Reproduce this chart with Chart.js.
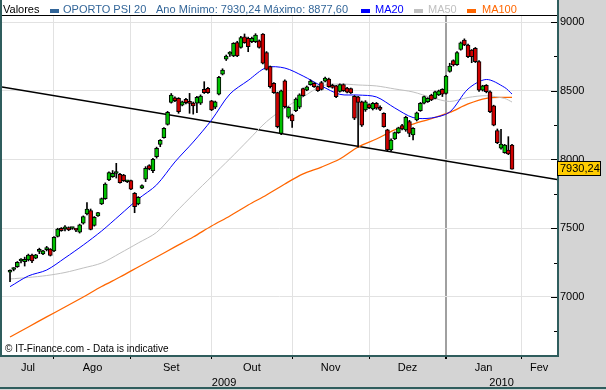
<!DOCTYPE html>
<html><head><meta charset="utf-8">
<script src="https://cdn.jsdelivr.net/npm/chart.js@4/dist/chart.umd.min.js"></script>
<style>html,body{margin:0;padding:0;background:#d4d4d4;}canvas{display:block;}</style>
</head><body>
<canvas id="c" width="606" height="390"></canvas>
<script>
// ---- DATA (OPORTO PSI 20, daily sessions 16 Jul 2009 .. 27 Jan 2010, index = session number) ----
const opens = [7180,7200,7220,7262,7256,7270,7305,7282,7332,7313,
 7345,7349,7335,7440,7500,7495,7504,7498,7490,7471,
 7536,7604,7628,7521,7589,7676,7715,7851,7875,7898,
 7892,7887,7838,7846,7754,7676,7791,7856,7955,7918,
 8020,8110,8159,8256,8416,8448,8445,8396,8438,8410,
 8410,8409,8409,8510,8518,8426,8380,8476,8620,8729,
 8766,8753,8850,8816,8893,8881,8857,8857,8864,8913,
 8777,8675,8554,8486,8190,8573,8307,8324,8355,8380,
 8515,8505,8545,8554,8530,8560,8570,8585,8540,8535,
 8495,8545,8520,8515,8460,8455,8420,8360,8400,8367,
 8409,8380,8336,8215,8070,8150,8195,8247,8215,8275,
 8178,8287,8355,8409,8420,8469,8445,8469,8510,8481,
 8640,8719,8690,8801,8869,8833,8796,8809,8712,8505,
 8540,8493,8390,8210,8082,8050,8069,8105];
const highs = [7198,7213,7258,7280,7290,7312,7312,7310,7355,7340,
 7368,7352,7440,7500,7505,7520,7510,7506,7494,7530,
 7590,7686,7640,7585,7616,7720,7830,7910,7920,7972,
 7900,7892,7848,7850,7760,7730,7815,7948,7962,8008,
 8090,8145,8232,8350,8480,8455,8450,8425,8445,8481,
 8418,8460,8470,8566,8525,8430,8425,8605,8660,8760,
 8785,8850,8860,8895,8913,8890,8890,8915,8870,8915,
 8785,8680,8560,8490,8505,8580,8385,8330,8448,8478,
 8520,8535,8580,8560,8535,8568,8600,8592,8548,8540,
 8550,8550,8525,8520,8465,8460,8425,8428,8405,8415,
 8415,8390,8340,8220,8150,8200,8235,8255,8315,8285,
 8232,8345,8415,8462,8450,8475,8498,8505,8515,8612,
 8700,8725,8785,8855,8877.6,8840,8800,8815,8720,8540,
 8545,8500,8395,8222,8220,8110,8166,8110];
const lows = [7112,7190,7215,7248,7225,7262,7250,7278,7315,7308,
 7335,7298,7330,7436,7478,7480,7482,7492,7475,7465,
 7530,7596,7488,7515,7586,7672,7710,7846,7870,7865,
 7828,7840,7832,7780,7613,7670,7788,7839,7925,7905,
 8010,8093,8155,8250,8410,8420,8336,8390,8405,8336,
 8330,8340,8400,8480,8480,8355,8370,8470,8615,8720,
 8750,8748,8748,8810,8845,8784,8850,8850,8810,8695,
 8650,8520,8480,8230,8180,8375,8300,8234,8348,8370,
 8458,8500,8540,8525,8495,8505,8565,8525,8518,8450,
 8490,8495,8485,8480,8290,8090,8240,8350,8370,8360,
 8365,8355,8235,8060,8060,8145,8190,8215,8205,8166,
 8142,8280,8350,8405,8415,8428,8440,8465,8458,8476,
 8635,8680,8685,8795,8828,8740,8704,8705,8495,8498,
 8485,8340,8245,8115,8075,8045,8035,7930.24];
const closes = [7186,7206,7252,7266,7274,7305,7262,7306,7336,7335,
 7349,7302,7434,7494,7482,7499,7488,7500,7486,7524,
 7584,7640,7492,7580,7613,7715,7822,7904,7900,7902,
 7832,7846,7840,7784,7657,7725,7810,7936,7931,8001,
 8081,8140,8227,8343,8469,8428,8348,8420,8413,8408,
 8390,8452,8462,8486,8486,8360,8420,8598,8651,8753,
 8770,8845,8753,8886,8850,8820,8881,8905,8816,8700,
 8656,8530,8486,8239,8500,8384,8380,8280,8440,8470,
 8465,8529,8570,8530,8500,8510,8592,8530,8525,8457,
 8545,8500,8490,8485,8300,8415,8250,8420,8377,8409,
 8373,8365,8239,8070,8142,8195,8230,8223,8307,8190,
 8227,8340,8409,8457,8445,8433,8493,8500,8476,8607,
 8680,8687,8777,8849,8833,8748,8748,8712,8505,8535,
 8493,8348,8250,8122,8113,8105,8040,7930.24];

// moving averages read at these session indices
const maX   = [0,5,10,15,20,25,30,35,40,45,50,55,60,65,70,75,80,85,90,95,100,105,110,115,120,125,130,135,137];
const ma20  = [7075,7153,7196,7284,7378,7480,7596,7713,7815,7982,8127,8287,8476,8575,8669,8665,8607,8535,8474,8469,8455,8375,8305,8302,8345,8513,8582,8524,8476];
const ma50  = [7131,7142,7156,7178,7211,7247,7318,7393,7470,7610,7745,7875,8005,8140,8275,8375,8455,8535,8549,8542,8535,8513,8491,8451,8422,8451,8464,8444,8418];
const ma100 = [6709,6782,6855,6927,7000,7076,7145,7218,7291,7364,7436,7516,7589,7669,7742,7822,7895,7945,8004,8091,8149,8215,8258,8298,8342,8404,8445,8452,8452];

// support (trend) line end points
const trendX = [-2.19, 149.28];
const trendY = [8528, 7854];

// axis labels
const monthLabels = ['Jul','Ago','Set','Out','Nov','Dez','Jan','Fev'];
const monthStarts = [12,33,55,77,98,119,139.5];   // first session of Aug..Feb
const yearLabels = ['2009','2010'];
const yearStart2010 = 119;
const yTickValues = [7000,7500,8000,8500,9000];

// ---- CHART ----
const XMIN = -2.19, XMAX = 149.28, YMIN = 6578, YMAX = 9051;
const idx = opens.map((_, i) => i);
const bounds = [XMIN, ...monthStarts, XMAX];
const monthMids = monthLabels.map((_, k) => (bounds[k] + bounds[k + 1]) / 2);
const yearMids = [(XMIN + yearStart2010) / 2, (yearStart2010 + XMAX) / 2];
const fmt = v => v.toFixed(2).replace('.', ',');
const min2010 = Math.min(...lows.slice(yearStart2010));
const max2010 = Math.max(...highs.slice(yearStart2010));
const FONT = '"Liberation Sans", Arial, sans-serif';
Chart.defaults.font.family = FONT;
Chart.defaults.font.size = 11;
Chart.defaults.color = '#000';

const frame = {
  id: 'frame',
  beforeDraw(chart) {
    const { ctx, chartArea: a } = chart;
    ctx.save();
    ctx.fillStyle = '#d4d4d4'; ctx.fillRect(0, 0, chart.width, chart.height);
    ctx.fillStyle = '#ffffff'; ctx.fillRect(0, 0, a.right, a.bottom);
    ctx.restore();
  },
  afterDraw(chart) {
    const { ctx, chartArea: a, scales } = chart;
    ctx.save();
    // inner tick marks on right border
    ctx.strokeStyle = '#000'; ctx.lineWidth = 1;
    for (let v = 6750; v <= 9000; v += 250) {
      const y = Math.round(scales.y.getPixelForValue(v)) + 0.5;
      const len = v % 500 === 0 ? 6 : 3;
      ctx.beginPath(); ctx.moveTo(a.right - len, y); ctx.lineTo(a.right, y); ctx.stroke();
    }
    // top black line
    ctx.beginPath(); ctx.moveTo(0, a.top + 0.5); ctx.lineTo(a.right, a.top + 0.5); ctx.stroke();
    // frame
    ctx.strokeStyle = '#2f5d5d'; ctx.lineWidth = 2;
    ctx.beginPath(); ctx.moveTo(1, 0); ctx.lineTo(1, a.bottom + 1); ctx.lineTo(a.right + 1, a.bottom + 1); ctx.lineTo(a.right + 1, 0); ctx.stroke();
    ctx.beginPath(); ctx.moveTo(0, 388); ctx.lineTo(chart.width, 388); ctx.stroke();
    // legend
    ctx.font = '11px ' + FONT; ctx.textBaseline = 'middle';
    const ly = 10;
    const items = [
      { t: 'Valores', x: 3, c: '#000' },
      { box: '#336699', x: 50 }, { t: 'OPORTO PSI 20', x: 63, c: '#336699' },
      { t: 'Ano Mínimo: ' + fmt(min2010) + ' Máximo: ' + fmt(max2010), x: 156, c: '#336699' },
      { box: '#0000ff', x: 361 }, { t: 'MA20', x: 375, c: '#0000ff' },
      { box: '#c0c0c0', x: 414 }, { t: 'MA50', x: 428, c: '#c0c0c0' },
      { box: '#ff6600', x: 467 }, { t: 'MA100', x: 482, c: '#ff6600' }
    ];
    items.forEach(it => {
      if (it.box) { ctx.fillStyle = it.box; ctx.fillRect(it.x, ly - 1, 9, 4); }
      else { ctx.fillStyle = it.c; ctx.fillText(it.t, it.x, ly); }
    });
    // copyright
    ctx.fillStyle = '#000'; ctx.font = '10px ' + FONT;
    ctx.fillText('\u00A9 IT-Finance.com - Data is indicative', 5, a.bottom - 6);
    // last price tag
    const last = closes[closes.length - 1];
    const ty = Math.round(scales.y.getPixelForValue(last));
    ctx.fillStyle = '#ffcc00'; ctx.fillRect(a.right, ty - 8, 44, 15);
    ctx.strokeStyle = '#000'; ctx.lineWidth = 1; ctx.strokeRect(a.right + 0.5, ty - 7.5, 43, 14);
    ctx.fillStyle = '#000'; ctx.font = '11px ' + FONT;
    ctx.fillText(fmt(last), a.right + 3, ty);
    ctx.restore();
  }
};

new Chart(document.getElementById('c'), {
  type: 'bar',
  data: {
    datasets: [
      { type: 'bar', label: 'wick', data: idx.map(i => ({ x: i, y: [lows[i], highs[i]] })),
        backgroundColor: '#000', borderWidth: 0, barThickness: 1, grouped: false, order: 1 },
      { type: 'bar', label: 'OPORTO PSI 20', data: idx.map(i => ({ x: i, y: [opens[i], closes[i]] })),
        backgroundColor: idx.map(i => closes[i] >= opens[i] ? '#00c000' : '#d00000'),
        borderColor: '#000', borderWidth: 1, borderSkipped: false, barThickness: 4, minBarLength: 2,
        grouped: false, order: 0 },
      { type: 'line', label: 'MA20', data: maX.map((x, k) => ({ x, y: ma20[k] })), borderColor: '#0000ff', borderWidth: 1, pointRadius: 0, tension: 0.3, order: 2 },
      { type: 'line', label: 'MA50', data: maX.map((x, k) => ({ x, y: ma50[k] })), borderColor: '#c0c0c0', borderWidth: 1, pointRadius: 0, tension: 0.3, order: 3 },
      { type: 'line', label: 'MA100', data: maX.map((x, k) => ({ x, y: ma100[k] })), borderColor: '#ff6600', borderWidth: 1.3, pointRadius: 0, tension: 0.3, order: 4 },
      { type: 'line', label: 'trend', data: trendX.map((x, k) => ({ x, y: trendY[k] })), borderColor: '#000', borderWidth: 1.5, pointRadius: 0, order: 5 }
    ]
  },
  options: {
    responsive: false, animation: false, devicePixelRatio: 1, events: [],
    layout: { padding: { left: 2, top: 15, right: 0, bottom: 0 } },
    plugins: { legend: { display: false }, tooltip: { enabled: false } },
    scales: {
      x: {
        type: 'linear', position: 'bottom', min: XMIN, max: XMAX, offset: false, weight: 0,
        grid: { offset: false, drawTicks: true, tickLength: 4, tickColor: '#000',
          color: c => (c.tick && c.tick.value === yearStart2010) ? '#a0a0a0' : '#e2e2e2',
          lineWidth: c => (c.tick && c.tick.value === yearStart2010) ? 2 : 1 },
        border: { display: false },
        ticks: { display: false },
        afterBuildTicks: s => { s.ticks = monthStarts.map(v => ({ value: v })); },
        afterFit: s => { s.height = 4; }
      },
      xm: {
        type: 'linear', position: 'bottom', min: XMIN, max: XMAX, offset: false, weight: 1,
        grid: { display: false, drawTicks: false }, border: { display: false },
        ticks: { autoSkip: false, maxRotation: 0, padding: 2, callback: (v, i) => monthLabels[i] },
        afterBuildTicks: s => { s.ticks = monthMids.map(v => ({ value: v })); },
        afterFit: s => { s.height = 16; }
      },
      xy: {
        type: 'linear', position: 'bottom', min: XMIN, max: XMAX, offset: false, weight: 2,
        grid: { display: false, drawTicks: false }, border: { display: false },
        ticks: { autoSkip: false, maxRotation: 0, padding: 1, callback: (v, i) => yearLabels[i] },
        afterBuildTicks: s => { s.ticks = yearMids.map(v => ({ value: v })); },
        afterFit: s => { s.height = 15; }
      },
      y: {
        type: 'linear', position: 'right', min: YMIN, max: YMAX,
        grid: { color: '#e2e2e2', drawTicks: false }, border: { display: false },
        ticks: { padding: 3, callback: v => String(v) },
        afterBuildTicks: s => { s.ticks = yTickValues.map(v => ({ value: v })); },
        afterFit: s => { s.width = 49; }
      }
    }
  },
  plugins: [frame]
});
</script>
</body></html>
